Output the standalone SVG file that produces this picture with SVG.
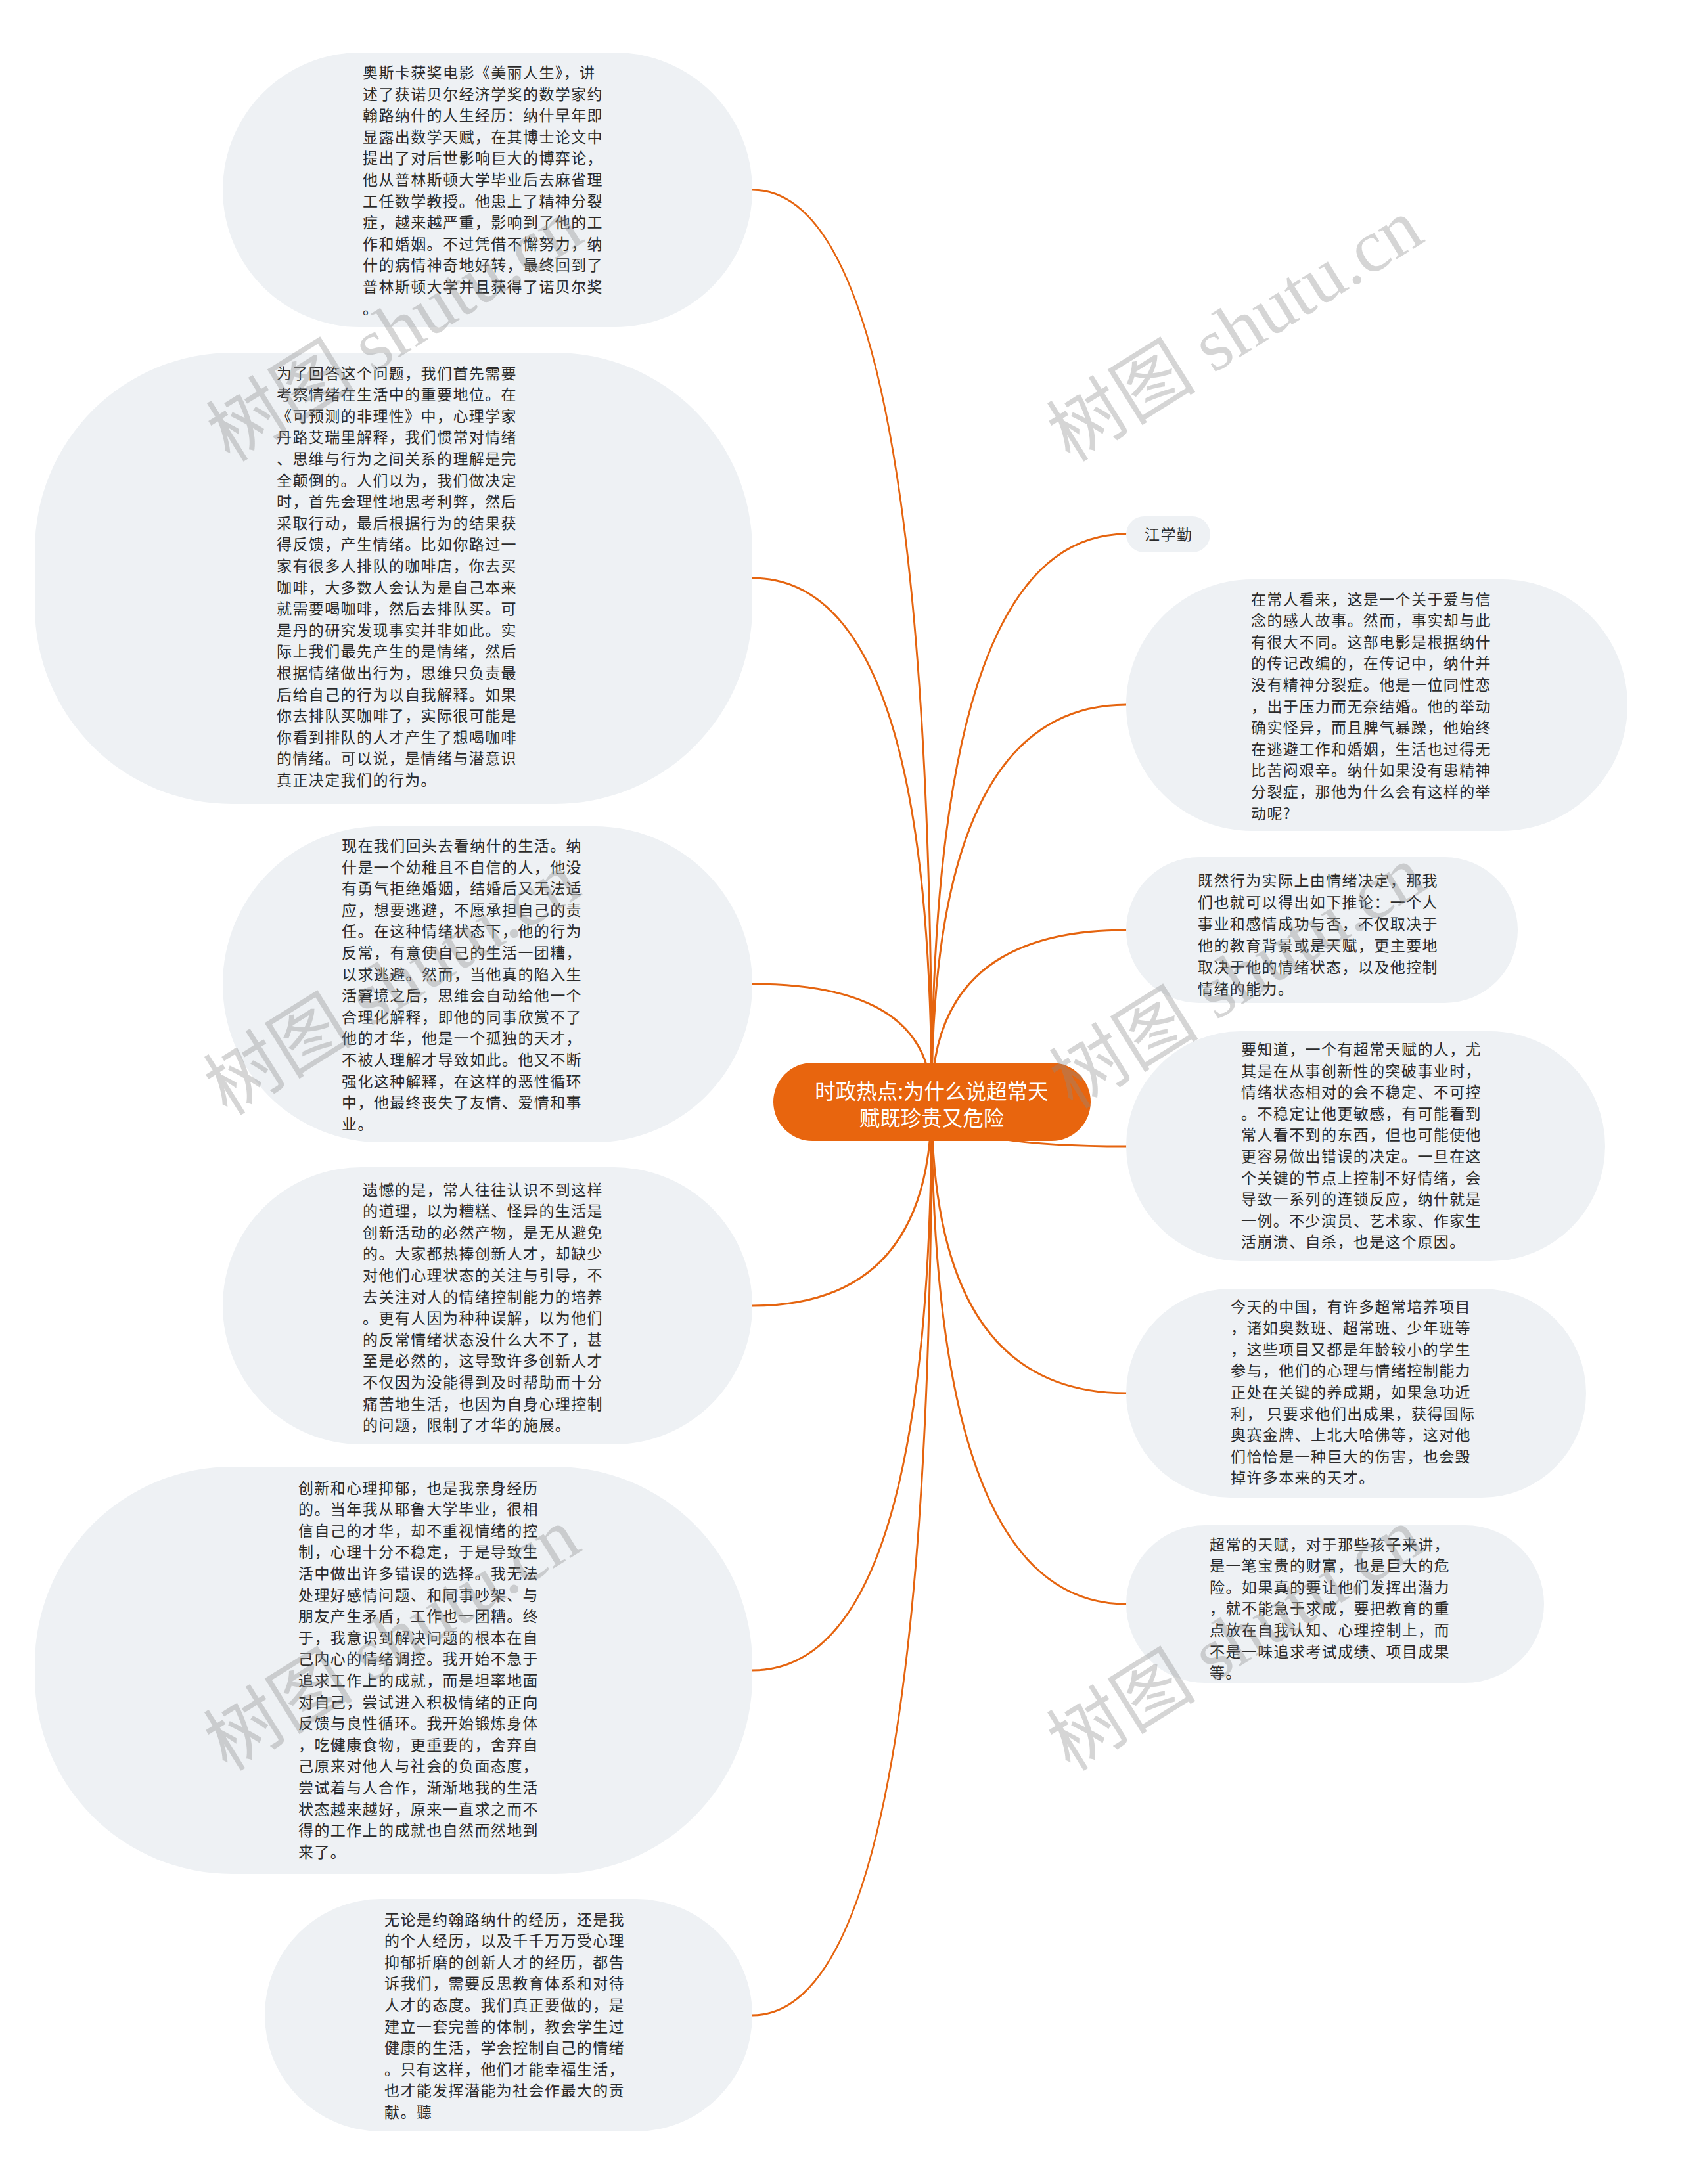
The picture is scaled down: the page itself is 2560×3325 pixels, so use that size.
<svg xmlns="http://www.w3.org/2000/svg" width="2560" height="3325" viewBox="0 0 2560 3325">
<defs>
<style>
.bg{fill:#ffffff}
.nb{fill:#EEF1F4}
.t{font-family:"Noto Sans CJK SC","Noto Sans",sans-serif;font-size:23px;letter-spacing:1.4px;fill:#2b2b2b}
.root{fill:#E8650E}
.rt{font-family:"Noto Sans CJK SC","Noto Sans",sans-serif;font-size:31.5px;fill:#ffffff;text-anchor:middle}
.c{fill:none;stroke:#E5640F;stroke-width:3;stroke-linecap:round}
.wm{font-family:"Liberation Serif","Noto Sans CJK SC",serif;font-size:114px;fill:#8a8a8a;fill-opacity:0.36}
</style>
</defs>
<rect class="bg" x="0" y="0" width="2560" height="3325"/>
<g id="connectors">
<path class="c" d="M1418 1677 Q1418 289 1145 289"/>
<path class="c" d="M1418 1677 Q1418 880 1145 880"/>
<path class="c" d="M1418 1677 Q1418 1498 1145 1498"/>
<path class="c" d="M1418 1677 Q1418 1988 1145 1988"/>
<path class="c" d="M1418 1677 Q1418 2543 1145 2543"/>
<path class="c" d="M1418 1677 Q1418 3068 1145 3068"/>
<path class="c" d="M1418 1677 Q1418 813 1714 813"/>
<path class="c" d="M1418 1677 Q1418 1073 1714 1073"/>
<path class="c" d="M1418 1677 Q1418 1416 1714 1416"/>
<path class="c" d="M1418 1677 Q1418 1745 1714 1745"/>
<path class="c" d="M1418 1677 Q1418 2121 1714 2121"/>
<path class="c" d="M1418 1677 Q1418 2442 1714 2442"/>
</g>
<g id="root">
<rect class="root" x="1177" y="1618" width="483" height="119" rx="59.5"/>
<text class="rt" x="1418" y="1673">时政热点:为什么说超常天</text>
<text class="rt" x="1418" y="1714">赋既珍贵又危险</text>
</g>
<g id="n1">
<rect class="nb" x="339" y="80" width="806" height="418" rx="209"/>
<text class="t" x="552"><tspan x="552" y="119">奥斯卡获奖电影《美丽人生》，讲</tspan><tspan x="552" y="151.6">述了获诺贝尔经济学奖的数学家约</tspan><tspan x="552" y="184.2">翰路纳什的人生经历：纳什早年即</tspan><tspan x="552" y="216.8">显露出数学天赋，在其博士论文中</tspan><tspan x="552" y="249.4">提出了对后世影响巨大的博弈论，</tspan><tspan x="552" y="282">他从普林斯顿大学毕业后去麻省理</tspan><tspan x="552" y="314.6">工任数学教授。他患上了精神分裂</tspan><tspan x="552" y="347.2">症，越来越严重，影响到了他的工</tspan><tspan x="552" y="379.8">作和婚姻。不过凭借不懈努力，纳</tspan><tspan x="552" y="412.4">什的病情神奇地好转，最终回到了</tspan><tspan x="552" y="445">普林斯顿大学并且获得了诺贝尔奖</tspan><tspan x="552" y="477.6">。</tspan></text>
</g>
<g id="n2">
<rect class="nb" x="53" y="537" width="1092" height="687" rx="300"/>
<text class="t"><tspan x="421" y="576.5">为了回答这个问题，我们首先需要</tspan><tspan x="421" y="609.1">考察情绪在生活中的重要地位。在</tspan><tspan x="421" y="641.7">《可预测的非理性》中，心理学家</tspan><tspan x="421" y="674.3">丹路艾瑞里解释，我们惯常对情绪</tspan><tspan x="421" y="706.9">、思维与行为之间关系的理解是完</tspan><tspan x="421" y="739.5">全颠倒的。人们以为，我们做决定</tspan><tspan x="421" y="772.1">时，首先会理性地思考利弊，然后</tspan><tspan x="421" y="804.7">采取行动，最后根据行为的结果获</tspan><tspan x="421" y="837.3">得反馈，产生情绪。比如你路过一</tspan><tspan x="421" y="869.9">家有很多人排队的咖啡店，你去买</tspan><tspan x="421" y="902.5">咖啡，大多数人会认为是自己本来</tspan><tspan x="421" y="935.1">就需要喝咖啡，然后去排队买。可</tspan><tspan x="421" y="967.7">是丹的研究发现事实并非如此。实</tspan><tspan x="421" y="1000.3">际上我们最先产生的是情绪，然后</tspan><tspan x="421" y="1032.9">根据情绪做出行为，思维只负责最</tspan><tspan x="421" y="1065.5">后给自己的行为以自我解释。如果</tspan><tspan x="421" y="1098.1">你去排队买咖啡了，实际很可能是</tspan><tspan x="421" y="1130.7">你看到排队的人才产生了想喝咖啡</tspan><tspan x="421" y="1163.3">的情绪。可以说，是情绪与潜意识</tspan><tspan x="421" y="1195.9">真正决定我们的行为。</tspan></text>
</g>
<g id="n3">
<rect class="nb" x="339" y="1258" width="806" height="481" rx="240"/>
<text class="t"><tspan x="520" y="1296">现在我们回头去看纳什的生活。纳</tspan><tspan x="520" y="1328.6">什是一个幼稚且不自信的人，他没</tspan><tspan x="520" y="1361.2">有勇气拒绝婚姻，结婚后又无法适</tspan><tspan x="520" y="1393.8">应，想要逃避，不愿承担自己的责</tspan><tspan x="520" y="1426.4">任。在这种情绪状态下，他的行为</tspan><tspan x="520" y="1459">反常，有意使自己的生活一团糟，</tspan><tspan x="520" y="1491.6">以求逃避。然而，当他真的陷入生</tspan><tspan x="520" y="1524.2">活窘境之后，思维会自动给他一个</tspan><tspan x="520" y="1556.8">合理化解释，即他的同事欣赏不了</tspan><tspan x="520" y="1589.4">他的才华，他是一个孤独的天才，</tspan><tspan x="520" y="1622">不被人理解才导致如此。他又不断</tspan><tspan x="520" y="1654.6">强化这种解释，在这样的恶性循环</tspan><tspan x="520" y="1687.2">中，他最终丧失了友情、爱情和事</tspan><tspan x="520" y="1719.8">业。</tspan></text>
</g>
<g id="n4">
<rect class="nb" x="339" y="1777" width="806" height="422" rx="211"/>
<text class="t"><tspan x="552" y="1819.5">遗憾的是，常人往往认识不到这样</tspan><tspan x="552" y="1852.1">的道理，以为糟糕、怪异的生活是</tspan><tspan x="552" y="1884.7">创新活动的必然产物，是无从避免</tspan><tspan x="552" y="1917.3">的。大家都热捧创新人才，却缺少</tspan><tspan x="552" y="1949.9">对他们心理状态的关注与引导，不</tspan><tspan x="552" y="1982.5">去关注对人的情绪控制能力的培养</tspan><tspan x="552" y="2015.1">。更有人因为种种误解，以为他们</tspan><tspan x="552" y="2047.7">的反常情绪状态没什么大不了，甚</tspan><tspan x="552" y="2080.3">至是必然的，这导致许多创新人才</tspan><tspan x="552" y="2112.9">不仅因为没能得到及时帮助而十分</tspan><tspan x="552" y="2145.5">痛苦地生活，也因为自身心理控制</tspan><tspan x="552" y="2178.1">的问题，限制了才华的施展。</tspan></text>
</g>
<g id="n5">
<rect class="nb" x="53" y="2233" width="1092" height="620" rx="300"/>
<text class="t"><tspan x="454" y="2273.5">创新和心理抑郁，也是我亲身经历</tspan><tspan x="454" y="2306.1">的。当年我从耶鲁大学毕业，很相</tspan><tspan x="454" y="2338.7">信自己的才华，却不重视情绪的控</tspan><tspan x="454" y="2371.3">制，心理十分不稳定，于是导致生</tspan><tspan x="454" y="2403.9">活中做出许多错误的选择。我无法</tspan><tspan x="454" y="2436.5">处理好感情问题、和同事吵架、与</tspan><tspan x="454" y="2469.1">朋友产生矛盾，工作也一团糟。终</tspan><tspan x="454" y="2501.7">于，我意识到解决问题的根本在自</tspan><tspan x="454" y="2534.3">己内心的情绪调控。我开始不急于</tspan><tspan x="454" y="2566.9">追求工作上的成就，而是坦率地面</tspan><tspan x="454" y="2599.5">对自己，尝试进入积极情绪的正向</tspan><tspan x="454" y="2632.1">反馈与良性循环。我开始锻炼身体</tspan><tspan x="454" y="2664.7">，吃健康食物，更重要的，舍弃自</tspan><tspan x="454" y="2697.3">己原来对他人与社会的负面态度，</tspan><tspan x="454" y="2729.9">尝试着与人合作，渐渐地我的生活</tspan><tspan x="454" y="2762.5">状态越来越好，原来一直求之而不</tspan><tspan x="454" y="2795.1">得的工作上的成就也自然而然地到</tspan><tspan x="454" y="2827.7">来了。</tspan></text>
</g>
<g id="n6">
<rect class="nb" x="403" y="2891" width="742" height="354" rx="177"/>
<text class="t"><tspan x="585" y="2930.5">无论是约翰路纳什的经历，还是我</tspan><tspan x="585" y="2963.1">的个人经历，以及千千万万受心理</tspan><tspan x="585" y="2995.7">抑郁折磨的创新人才的经历，都告</tspan><tspan x="585" y="3028.3">诉我们，需要反思教育体系和对待</tspan><tspan x="585" y="3060.9">人才的态度。我们真正要做的，是</tspan><tspan x="585" y="3093.5">建立一套完善的体制，教会学生过</tspan><tspan x="585" y="3126.1">健康的生活，学会控制自己的情绪</tspan><tspan x="585" y="3158.7">。只有这样，他们才能幸福生活，</tspan><tspan x="585" y="3191.3">也才能发挥潜能为社会作最大的贡</tspan><tspan x="585" y="3223.9">献。聽</tspan></text>
</g>
<g id="r0">
<rect class="nb" x="1714" y="786" width="128" height="55" rx="27.5"/>
<text class="t" x="1742" y="821.5">江学勤</text>
</g>
<g id="r1">
<rect class="nb" x="1714" y="882" width="763" height="383" rx="191"/>
<text class="t"><tspan x="1904" y="920.5">在常人看来，这是一个关于爱与信</tspan><tspan x="1904" y="953.1">念的感人故事。然而，事实却与此</tspan><tspan x="1904" y="985.7">有很大不同。这部电影是根据纳什</tspan><tspan x="1904" y="1018.3">的传记改编的，在传记中，纳什并</tspan><tspan x="1904" y="1050.9">没有精神分裂症。他是一位同性恋</tspan><tspan x="1904" y="1083.5">，出于压力而无奈结婚。他的举动</tspan><tspan x="1904" y="1116.1">确实怪异，而且脾气暴躁，他始终</tspan><tspan x="1904" y="1148.7">在逃避工作和婚姻，生活也过得无</tspan><tspan x="1904" y="1181.3">比苦闷艰辛。纳什如果没有患精神</tspan><tspan x="1904" y="1213.9">分裂症，那他为什么会有这样的举</tspan><tspan x="1904" y="1246.5">动呢?</tspan></text>
</g>
<g id="r2">
<rect class="nb" x="1714" y="1305" width="596" height="222" rx="111"/>
<text class="t"><tspan x="1823" y="1348.5">既然行为实际上由情绪决定，那我</tspan><tspan x="1823" y="1381.5">们也就可以得出如下推论：一个人</tspan><tspan x="1823" y="1414.5">事业和感情成功与否，不仅取决于</tspan><tspan x="1823" y="1447.5">他的教育背景或是天赋，更主要地</tspan><tspan x="1823" y="1480.5">取决于他的情绪状态，以及他控制</tspan><tspan x="1823" y="1513.5">情绪的能力。</tspan></text>
</g>
<g id="r3">
<rect class="nb" x="1714" y="1570" width="729" height="350" rx="175"/>
<text class="t"><tspan x="1889" y="1606">要知道，一个有超常天赋的人，尤</tspan><tspan x="1889" y="1638.6">其是在从事创新性的突破事业时，</tspan><tspan x="1889" y="1671.2">情绪状态相对的会不稳定、不可控</tspan><tspan x="1889" y="1703.8">。不稳定让他更敏感，有可能看到</tspan><tspan x="1889" y="1736.4">常人看不到的东西，但也可能使他</tspan><tspan x="1889" y="1769">更容易做出错误的决定。一旦在这</tspan><tspan x="1889" y="1801.6">个关键的节点上控制不好情绪，会</tspan><tspan x="1889" y="1834.2">导致一系列的连锁反应，纳什就是</tspan><tspan x="1889" y="1866.8">一例。不少演员、艺术家、作家生</tspan><tspan x="1889" y="1899.4">活崩溃、自杀，也是这个原因。</tspan></text>
</g>
<g id="r4">
<rect class="nb" x="1714" y="1962" width="700" height="318" rx="159"/>
<text class="t"><tspan x="1873" y="1997.5">今天的中国，有许多超常培养项目</tspan><tspan x="1873" y="2030.1">，诸如奥数班、超常班、少年班等</tspan><tspan x="1873" y="2062.7">，这些项目又都是年龄较小的学生</tspan><tspan x="1873" y="2095.3">参与，他们的心理与情绪控制能力</tspan><tspan x="1873" y="2127.9">正处在关键的养成期，如果急功近</tspan><tspan x="1873" y="2160.5">利， 只要求他们出成果，获得国际</tspan><tspan x="1873" y="2193.1">奥赛金牌、上北大哈佛等，这对他</tspan><tspan x="1873" y="2225.7">们恰恰是一种巨大的伤害，也会毁</tspan><tspan x="1873" y="2258.3">掉许多本来的天才。</tspan></text>
</g>
<g id="r5">
<rect class="nb" x="1714" y="2322" width="636" height="240" rx="120"/>
<text class="t"><tspan x="1841" y="2359.5">超常的天赋，对于那些孩子来讲，</tspan><tspan x="1841" y="2392.1">是一笔宝贵的财富，也是巨大的危</tspan><tspan x="1841" y="2424.7">险。如果真的要让他们发挥出潜力</tspan><tspan x="1841" y="2457.3">，就不能急于求成，要把教育的重</tspan><tspan x="1841" y="2489.9">点放在自我认知、心理控制上，而</tspan><tspan x="1841" y="2522.5">不是一味追求考试成绩、项目成果</tspan><tspan x="1841" y="2555.1">等。</tspan></text>
</g>
<g id="watermarks">
<text class="wm" transform="translate(350 705) rotate(-32)">树图 shutu.cn</text>
<text class="wm" transform="translate(1629 705) rotate(-32)">树图 shutu.cn</text>
<text class="wm" transform="translate(346 1700) rotate(-32)">树图 shutu.cn</text>
<text class="wm" transform="translate(1633 1690) rotate(-32)">树图 shutu.cn</text>
<text class="wm" transform="translate(346 2698) rotate(-32)">树图 shutu.cn</text>
<text class="wm" transform="translate(1629 2698) rotate(-32)">树图 shutu.cn</text>
</g>
</svg>
